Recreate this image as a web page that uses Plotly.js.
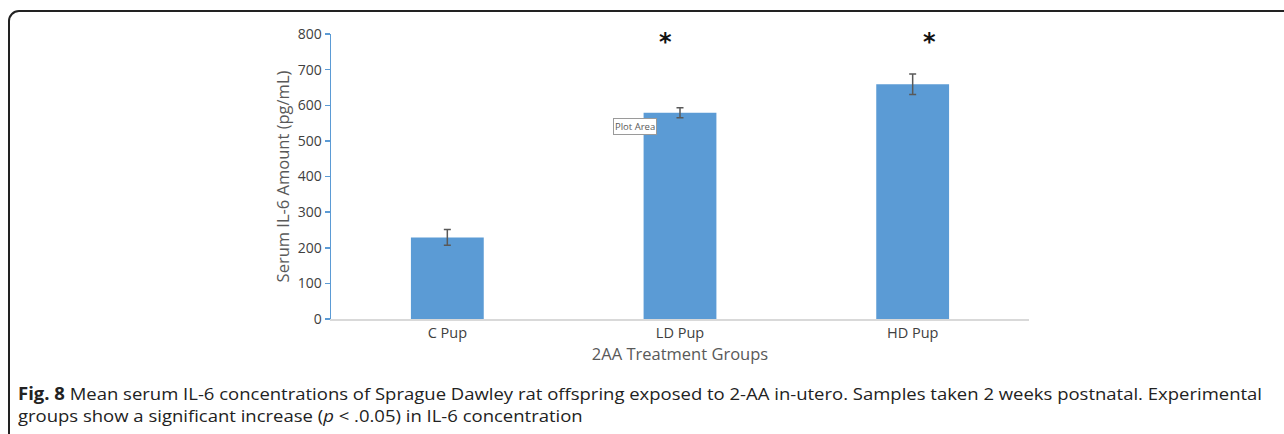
<!DOCTYPE html>
<html>
<head>
<meta charset="utf-8">
<script src="https://cdn.plot.ly/plotly-3.0.1.min.js"></script>
<style>
  html, body { margin:0; padding:0; background:#fff; width:1284px; height:434px; overflow:hidden; }
  #frame { position:absolute; left:8px; top:10px; width:1300px; height:460px; border:2px solid #222; border-radius:11px; box-sizing:border-box; }
  #chart { position:absolute; left:0; top:0; width:1284px; height:434px; }
  #caption { position:absolute; left:18px; top:383px; font-family:"Open Sans",sans-serif; font-size:17px; line-height:22px; color:#222; white-space:nowrap; transform-origin:0 0; }
</style>
</head>
<body>
<div id="frame"></div>
<div id="chart"></div>
<div id="caption"><span id="cap1"><b>Fig. 8</b> Mean serum IL-6 concentrations of Sprague Dawley rat offspring exposed to 2-AA in-utero. Samples taken 2 weeks postnatal. Experimental</span><br>groups show a significant increase (<i>p</i> &lt; .0.05) in IL-6 concentration</div>
<script>
const categories = ["C Pup", "LD Pup", "HD Pup"];
const meanIL6 = [229, 579, 659];
const errIL6 = [22, 14, 29];
const significant = ["", "*", "*"];

// fit caption's first line to the reference width
(function () {
  const w = document.getElementById("cap1").getBoundingClientRect().width;
  const k = 1244 / w;
  document.getElementById("caption").style.transform = "scaleX(" + k + ")";
})();

const trace = {
  type: "bar",
  x: categories,
  y: meanIL6,
  marker: { color: "#5b9bd5" },
  error_y: { type: "data", array: errIL6, visible: true, color: "#595959", thickness: 1.5, width: 3.5 },
  hoverinfo: "none"
};

const annotations = [];
const shifts = [0, -15, 17];
categories.forEach((c, i) => {
  if (significant[i]) {
    annotations.push({ x: c, y: 800, xref: "x", yref: "y", text: "<b>" + significant[i] + "</b>",
      showarrow: false, xshift: shifts[i], yshift: -8, font: { size: 24, color: "#111", family: "DejaVu Sans" } });
  }
});
annotations.push({ x: categories[1], y: 539, xref: "x", yref: "y", text: "Plot Area", showarrow: false,
  xshift: -45, font: { size: 9.5, color: "#595959", family: "Open Sans" }, bgcolor: "#fff", bordercolor: "#9a9a9a", borderwidth: 1, borderpad: 1 });

const layout = {
  width: 1284, height: 434,
  margin: { l: 331, r: 255, t: 34, b: 115 },
  paper_bgcolor: "rgba(0,0,0,0)", plot_bgcolor: "rgba(0,0,0,0)",
  bargap: 0.687,
  showlegend: false,
  font: { family: "Open Sans, sans-serif", color: "#595959", size: 14 },
  xaxis: {
    showline: true, linecolor: "#d9d9d9", linewidth: 1.5, ticks: "", showgrid: false, zeroline: false,
    tickfont: { size: 14.5, color: "#404040" },
    title: { text: "2AA Treatment Groups", font: { size: 16.5, color: "#595959" }, standoff: 7 }
  },
  yaxis: {
    range: [0, 800], dtick: 100, showline: true, linecolor: "#5b9bd5", linewidth: 1.5,
    ticks: "outside", ticklen: 5, tickcolor: "#5b9bd5", tickwidth: 1.5, showgrid: false, zeroline: false,
    tickfont: { size: 14, color: "#404040" },
    title: { text: "Serum IL-6 Amount (pg/mL)", font: { size: 16.5, color: "#595959" }, standoff: 4 }
  },
  annotations: annotations
};

Plotly.newPlot("chart", [trace], layout, { displayModeBar: false, staticPlot: true });
</script>
</body>
</html>
